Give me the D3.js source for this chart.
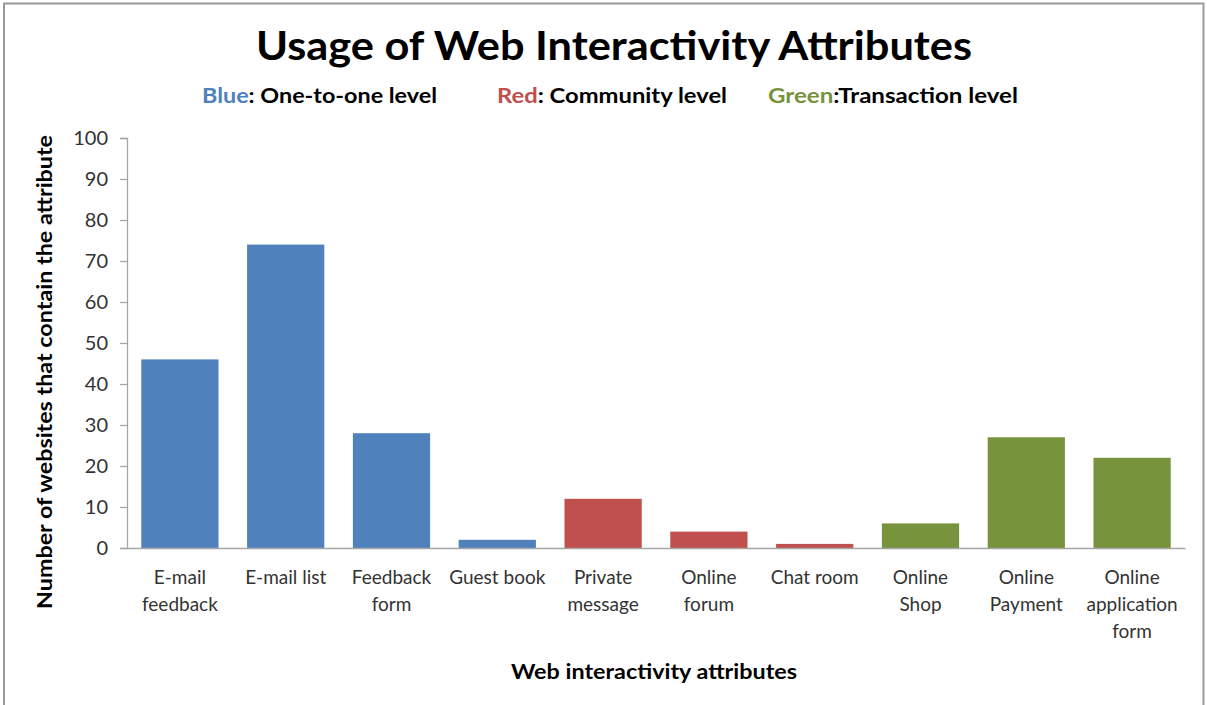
<!DOCTYPE html>
<html>
<head>
<meta charset="utf-8">
<script src="https://cdn.jsdelivr.net/npm/d3@7"></script>
<style>
  body { margin: 0; background: #fff; }
  text { font-family: Lato, "Open Sans", sans-serif; }
</style>
</head>
<body>
<div id="chart"></div>
<script>
var categories = ['E-mail feedback', 'E-mail list', 'Feedback form', 'Guest book', 'Private message',
	'Online forum', 'Chat room', 'Online Shop', 'Online Payment', 'Online application form'];
var labelLines = [['E-mail', 'feedback'], ['E-mail list'], ['Feedback', 'form'], ['Guest book'], ['Private', 'message'],
	['Online', 'forum'], ['Chat room'], ['Online', 'Shop'], ['Online', 'Payment'], ['Online', 'application', 'form']];
var values = [46, 74, 28, 2, 12, 4, 1, 6, 27, 22];
var levels = ['blue', 'blue', 'blue', 'blue', 'red', 'red', 'red', 'green', 'green', 'green'];
var yTicks = [0, 10, 20, 30, 40, 50, 60, 70, 80, 90, 100];

var colors = { blue: '#4F81BD', red: '#C0504D', green: '#77933C' };

var width = 1207;
var height = 705;
var plotLeft = 127;
var plotRight = 1185;
var plotTop = 138;
var plotBottom = 548;

var svg = d3.select('#chart')
	.append('svg')
	.attr('width', width)
	.attr('height', height);

// frame
svg.append('path')
	.attr('d', 'M4,705 V3.5 H1203.5 V705')
	.attr('fill', 'none')
	.attr('stroke', '#9a9a9a')
	.attr('stroke-width', 2);

var x = d3.scaleBand()
	.domain(categories)
	.range([plotLeft, plotRight])
	.paddingInner(0.27)
	.paddingOuter(0.135);

var y = d3.scaleLinear()
	.domain([0, 100])
	.range([plotBottom, plotTop]);

// y axis
var yAxis = svg.append('g')
	.attr('transform', 'translate(' + plotLeft + ',0)')
	.call(d3.axisLeft(y).tickValues(yTicks).tickSize(7).tickPadding(12));
yAxis.select('.domain').attr('stroke', '#a6a6a6').attr('stroke-width', 1.3);
yAxis.selectAll('.tick line').attr('stroke', '#a6a6a6').attr('stroke-width', 1.3);
yAxis.selectAll('.tick text')
	.attr('fill', '#333')
	.style('font-size', '20px')
	.attr('font-family', 'Lato, sans-serif');

// bars
svg.selectAll('rect.bar')
	.data(values)
	.enter()
	.append('rect')
	.attr('class', 'bar')
	.attr('x', function(d, i) { return x(categories[i]); })
	.attr('y', function(d) { return y(d); })
	.attr('width', x.bandwidth())
	.attr('height', function(d) { return y(0) - y(d); })
	.attr('fill', function(d, i) { return colors[levels[i]]; });

// x axis line
var xAxis = svg.append('g')
	.attr('transform', 'translate(0,' + plotBottom + ')')
	.call(d3.axisBottom(x).tickSize(0).tickFormat(''));
xAxis.select('.domain').attr('stroke', '#a6a6a6').attr('stroke-width', 1.3);

// category labels
var labels = svg.selectAll('text.cat')
	.data(labelLines)
	.enter()
	.append('text')
	.attr('class', 'cat')
	.attr('text-anchor', 'middle')
	.attr('fill', '#333')
	.style('font-size', '19px');
labels.each(function(lines, i) {
	var t = d3.select(this);
	lines.forEach(function(s, j) {
		t.append('tspan')
			.attr('x', x(categories[i]) + x.bandwidth() / 2)
			.attr('y', 584 + j * 27)
			.text(s);
	});
});

// title
svg.append('text')
	.attr('x', 614)
	.attr('y', 60)
	.attr('text-anchor', 'middle')
	.style('font-size', '40px')
	.style('font-weight', 'bold')
	.attr('textLength', 716)
	.attr('lengthAdjust', 'spacingAndGlyphs')
	.text('Usage of Web Interactivity Attributes');

// legend
var legend = [
	{ key: 'Blue', sep: ': ', rest: 'One-to-one level', x: 202, w: 235, c: colors.blue },
	{ key: 'Red', sep: ': ', rest: 'Community level', x: 497, w: 230, c: colors.red },
	{ key: 'Green', sep: ':', rest: 'Transaction level', x: 768, w: 250, c: colors.green }
];
legend.forEach(function(l) {
	var t = svg.append('text')
		.attr('x', l.x)
		.attr('y', 103)
		.style('font-size', '21px')
		.style('font-weight', 'bold')
		.attr('textLength', l.w)
		.attr('lengthAdjust', 'spacingAndGlyphs');
	t.append('tspan').attr('fill', l.c).text(l.key);
	t.append('tspan').attr('fill', '#000').text(l.sep + l.rest);
});

// axis titles
svg.append('text')
	.attr('transform', 'translate(52,' + 372 + ') rotate(-90)')
	.attr('text-anchor', 'middle')
	.style('font-size', '21px')
	.style('font-weight', 'bold')
	.attr('textLength', 474)
	.attr('lengthAdjust', 'spacingAndGlyphs')
	.text('Number of websites that contain the attribute');

svg.append('text')
	.attr('x', 654)
	.attr('y', 679)
	.attr('text-anchor', 'middle')
	.style('font-size', '21px')
	.style('font-weight', 'bold')
	.attr('textLength', 286)
	.attr('lengthAdjust', 'spacingAndGlyphs')
	.text('Web interactivity attributes');
</script>
</body>
</html>
